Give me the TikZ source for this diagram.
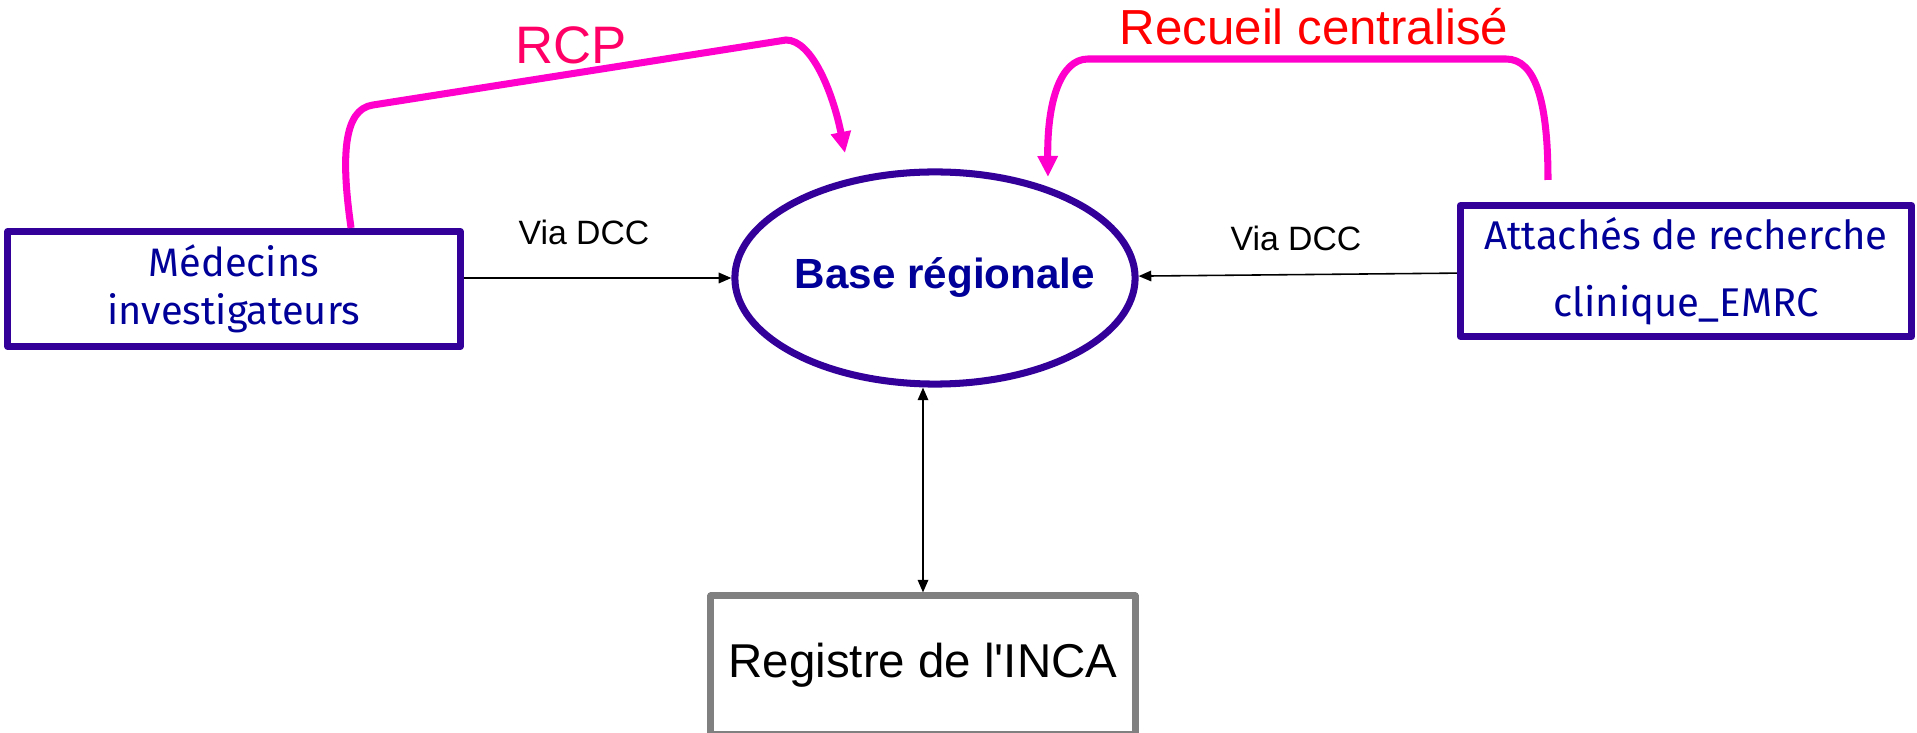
\documentclass[tikz,border=0pt]{standalone}
\usepackage{fontspec}
\setmainfont{Liberation Sans}
\newfontfamily\handfont{Fira Sans}
\usetikzlibrary{arrows.meta, shapes.geometric, positioning}
\definecolor{boxindigo}{RGB}{51, 0, 153}
\definecolor{textnavy}{RGB}{0, 0, 153}
\definecolor{loopmagenta}{RGB}{255, 0, 204}
\definecolor{rcpred}{RGB}{255, 0, 102}
\definecolor{regray}{RGB}{128, 128, 128}

\begin{document}
\begin{tikzpicture}[x=0.01cm, y=0.01cm,
  actor/.style={draw=boxindigo, line width=2pt, line join=round, align=center, text=textnavy},
  flow/.style={black, line width=0.45pt, -{Triangle[length=3.6pt, width=3pt]}},
  loopline/.style={loopmagenta, line width=2pt, -{Triangle[length=6pt, width=5.5pt]}}]
\useasboundingbox (0,0) rectangle (1917,733);

% Actors
\node[actor, minimum width=4.52cm, minimum height=1.15cm,
  font=\handfont\fontsize{11.3}{13.7}\selectfont] (lbox) at (234,444)
  {Médecins\\investigateurs};
\node[actor, minimum width=4.51cm, minimum height=1.29cm,
  font=\handfont\fontsize{11.4}{19}\selectfont] (rbox) at (1686,462)
  {Attachés de recherche\\clinique\_EMRC};

% Central base
\node[draw=boxindigo, line width=2pt, ellipse, inner sep=0pt,
  minimum width=4.0cm, minimum height=2.12cm] (base) at (935,455) {};
\node[font=\bfseries\fontsize{12}{14}\selectfont, text=textnavy] (basetext) at (945,455) {Base régionale};

% Registry
\node[draw=regray, line width=2pt, line join=round, minimum width=4.24cm, minimum height=1.38cm,
  font=\fontsize{13.5}{16}\selectfont] (reg) at (923,68) {Registre de l\textquotesingle INCA};

% Data flows
\draw[flow] (lbox.east |- base) -- (base);
\draw[flow] (rbox) -- (base);
\draw[flow, {Triangle[length=3.6pt, width=3pt]}-{Triangle[length=3.6pt, width=3pt]}] (reg.north) -- (reg.north |- base.south);
\node[font=\fontsize{9.6}{11}\selectfont] (viadccl) at (584,501) {Via DCC};
\node[font=\fontsize{9.6}{11}\selectfont] (viadccr) at (1296,495) {Via DCC};

% Loops
\coordinate (rcpin) at (845,580);
\coordinate (recout) at (1548,553);
\coordinate (recin) at (1048,556);
\draw[loopline] ([xshift=1.17cm]lbox.north) .. controls (341,575) and (343,624) .. (373,628)
  -- (786,693) .. controls (812,693) and (833,640) .. (rcpin);
\draw[loopline] (recout) .. controls (1548,630) and (1536,674) .. (1506,674)
  -- (1088,674) .. controls (1060,674) and (1047,630) .. (recin);
\node[font=\fontsize{15}{18}\selectfont, text=rcpred] (rcp) at (571,688) {RCP};
\node[font=\fontsize{14}{17}\selectfont, text=red] (recueil) at (1314,706) {Recueil centralisé};
\end{tikzpicture}
\end{document}
